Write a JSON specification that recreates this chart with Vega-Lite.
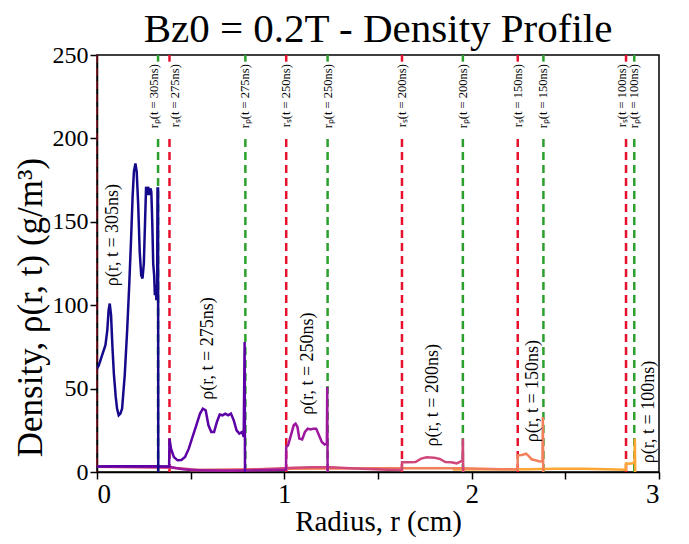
{
  "$schema": "https://vega.github.io/schema/vega-lite/v6.json",
  "autosize": {"type": "none"},
  "padding": {"left": 97, "top": 55, "right": 30, "bottom": 72},
  "width": 562,
  "height": 417,
  "background": "white",
  "title": {
    "text": "Bz0 = 0.2T - Density Profile",
    "font": "Liberation Serif",
    "fontSize": 41,
    "fontWeight": "normal",
    "color": "black",
    "anchor": "middle",
    "frame": "group",
    "baseline": "alphabetic",
    "offset": 12,
    "dy": 52
  },
  "config": {
    "view": {"stroke": "black", "strokeWidth": 1.5},
    "axis": {
      "grid": false,
      "domainColor": "black",
      "domainWidth": 1.5,
      "tickColor": "black",
      "tickWidth": 1.5,
      "tickSize": 7,
      "labelFont": "Liberation Serif",
      "titleFont": "Liberation Serif",
      "labelColor": "black",
      "titleColor": "black",
      "titleFontWeight": "normal",
      "zindex": 1
    },
    "text": {"font": "Liberation Serif", "color": "black"}
  },
  "datasets": {
    "curves": [
      {"t": "100ns", "r": 1.9, "rho": 1.5},
      {"t": "100ns", "r": 2.1, "rho": 1.6},
      {"t": "100ns", "r": 2.3, "rho": 1.7},
      {"t": "100ns", "r": 2.45, "rho": 1.9},
      {"t": "100ns", "r": 2.6, "rho": 1.9},
      {"t": "100ns", "r": 2.72, "rho": 1.6},
      {"t": "100ns", "r": 2.823, "rho": 1.3},
      {"t": "100ns", "r": 2.824, "rho": 5.2},
      {"t": "100ns", "r": 2.84, "rho": 5.0},
      {"t": "100ns", "r": 2.86, "rho": 5.2},
      {"t": "100ns", "r": 2.869, "rho": 6.0},
      {"t": "100ns", "r": 2.871, "rho": 20},
      {"t": "100ns", "r": 2.873, "rho": 0},

      {"t": "150ns", "r": 0.5, "rho": 1.0},
      {"t": "150ns", "r": 1.0, "rho": 2.0},
      {"t": "150ns", "r": 1.5, "rho": 2.2},
      {"t": "150ns", "r": 1.95, "rho": 2.2},
      {"t": "150ns", "r": 2.05, "rho": 2.0},
      {"t": "150ns", "r": 2.15, "rho": 1.7},
      {"t": "150ns", "r": 2.245, "rho": 1.5},
      {"t": "150ns", "r": 2.246, "rho": 10},
      {"t": "150ns", "r": 2.27, "rho": 10.2},
      {"t": "150ns", "r": 2.29, "rho": 11},
      {"t": "150ns", "r": 2.305, "rho": 9.5},
      {"t": "150ns", "r": 2.32, "rho": 7.6},
      {"t": "150ns", "r": 2.34, "rho": 7.0},
      {"t": "150ns", "r": 2.36, "rho": 6.5},
      {"t": "150ns", "r": 2.378, "rho": 6.2},
      {"t": "150ns", "r": 2.38, "rho": 33},
      {"t": "150ns", "r": 2.382, "rho": 0},

      {"t": "200ns", "r": 0.0, "rho": 3.2},
      {"t": "200ns", "r": 0.4, "rho": 2.6},
      {"t": "200ns", "r": 0.55, "rho": 1.2},
      {"t": "200ns", "r": 0.8, "rho": 1.3},
      {"t": "200ns", "r": 0.95, "rho": 2.0},
      {"t": "200ns", "r": 1.05, "rho": 2.6},
      {"t": "200ns", "r": 1.15, "rho": 2.9},
      {"t": "200ns", "r": 1.25, "rho": 2.8},
      {"t": "200ns", "r": 1.35, "rho": 2.3},
      {"t": "200ns", "r": 1.45, "rho": 1.8},
      {"t": "200ns", "r": 1.55, "rho": 1.4},
      {"t": "200ns", "r": 1.627, "rho": 1.2},
      {"t": "200ns", "r": 1.628, "rho": 5.8},
      {"t": "200ns", "r": 1.66, "rho": 5.8},
      {"t": "200ns", "r": 1.7, "rho": 6.0},
      {"t": "200ns", "r": 1.73, "rho": 8.0},
      {"t": "200ns", "r": 1.76, "rho": 8.8},
      {"t": "200ns", "r": 1.8, "rho": 8.6},
      {"t": "200ns", "r": 1.83, "rho": 7.8},
      {"t": "200ns", "r": 1.86, "rho": 6.0},
      {"t": "200ns", "r": 1.89, "rho": 5.8},
      {"t": "200ns", "r": 1.92, "rho": 5.2},
      {"t": "200ns", "r": 1.945, "rho": 6.5},
      {"t": "200ns", "r": 1.951, "rho": 6.2},
      {"t": "200ns", "r": 1.953, "rho": 20},
      {"t": "200ns", "r": 1.955, "rho": 0},

      {"t": "250ns", "r": 0.0, "rho": 3.3},
      {"t": "250ns", "r": 0.387, "rho": 3.2},
      {"t": "250ns", "r": 0.42, "rho": 2.4},
      {"t": "250ns", "r": 0.46, "rho": 1.6},
      {"t": "250ns", "r": 0.5, "rho": 1.2},
      {"t": "250ns", "r": 0.6, "rho": 0.9},
      {"t": "250ns", "r": 0.7, "rho": 0.8},
      {"t": "250ns", "r": 0.8, "rho": 0.9},
      {"t": "250ns", "r": 0.9, "rho": 1.1},
      {"t": "250ns", "r": 1.0, "rho": 1.3},
      {"t": "250ns", "r": 1.009, "rho": 1.4},
      {"t": "250ns", "r": 1.01, "rho": 15},
      {"t": "250ns", "r": 1.02, "rho": 16},
      {"t": "250ns", "r": 1.035, "rho": 22},
      {"t": "250ns", "r": 1.05, "rho": 28},
      {"t": "250ns", "r": 1.06, "rho": 29},
      {"t": "250ns", "r": 1.07, "rho": 27},
      {"t": "250ns", "r": 1.08, "rho": 20},
      {"t": "250ns", "r": 1.095, "rho": 19.5},
      {"t": "250ns", "r": 1.11, "rho": 24},
      {"t": "250ns", "r": 1.125, "rho": 26},
      {"t": "250ns", "r": 1.14, "rho": 25.5},
      {"t": "250ns", "r": 1.155, "rho": 26},
      {"t": "250ns", "r": 1.17, "rho": 26},
      {"t": "250ns", "r": 1.185, "rho": 22},
      {"t": "250ns", "r": 1.2, "rho": 18},
      {"t": "250ns", "r": 1.215, "rho": 16.5},
      {"t": "250ns", "r": 1.227, "rho": 17},
      {"t": "250ns", "r": 1.229, "rho": 51},
      {"t": "250ns", "r": 1.231, "rho": 0},

      {"t": "275ns", "r": 0.0, "rho": 3.3},
      {"t": "275ns", "r": 0.1, "rho": 3.4},
      {"t": "275ns", "r": 0.2, "rho": 3.5},
      {"t": "275ns", "r": 0.3, "rho": 3.4},
      {"t": "275ns", "r": 0.385, "rho": 3.3},
      {"t": "275ns", "r": 0.387, "rho": 20},
      {"t": "275ns", "r": 0.395, "rho": 14},
      {"t": "275ns", "r": 0.41, "rho": 9},
      {"t": "275ns", "r": 0.43, "rho": 7},
      {"t": "275ns", "r": 0.45, "rho": 7.2},
      {"t": "275ns", "r": 0.47, "rho": 9},
      {"t": "275ns", "r": 0.49, "rho": 14},
      {"t": "275ns", "r": 0.51, "rho": 21},
      {"t": "275ns", "r": 0.53, "rho": 28},
      {"t": "275ns", "r": 0.55, "rho": 35},
      {"t": "275ns", "r": 0.565, "rho": 38},
      {"t": "275ns", "r": 0.58, "rho": 37},
      {"t": "275ns", "r": 0.595, "rho": 28},
      {"t": "275ns", "r": 0.61, "rho": 24},
      {"t": "275ns", "r": 0.625, "rho": 24},
      {"t": "275ns", "r": 0.64, "rho": 30},
      {"t": "275ns", "r": 0.655, "rho": 34.5},
      {"t": "275ns", "r": 0.67, "rho": 34},
      {"t": "275ns", "r": 0.685, "rho": 35},
      {"t": "275ns", "r": 0.7, "rho": 34},
      {"t": "275ns", "r": 0.715, "rho": 35},
      {"t": "275ns", "r": 0.73, "rho": 31},
      {"t": "275ns", "r": 0.745, "rho": 25},
      {"t": "275ns", "r": 0.76, "rho": 23},
      {"t": "275ns", "r": 0.775, "rho": 24},
      {"t": "275ns", "r": 0.783, "rho": 21},
      {"t": "275ns", "r": 0.788, "rho": 78},
      {"t": "275ns", "r": 0.79, "rho": 0},

      {"t": "305ns", "r": 0.0, "rho": 62},
      {"t": "305ns", "r": 0.01, "rho": 64},
      {"t": "305ns", "r": 0.03, "rho": 71},
      {"t": "305ns", "r": 0.045, "rho": 76},
      {"t": "305ns", "r": 0.055, "rho": 85},
      {"t": "305ns", "r": 0.062, "rho": 97},
      {"t": "305ns", "r": 0.068, "rho": 101},
      {"t": "305ns", "r": 0.075, "rho": 94},
      {"t": "305ns", "r": 0.082, "rho": 76},
      {"t": "305ns", "r": 0.09, "rho": 59},
      {"t": "305ns", "r": 0.1, "rho": 45},
      {"t": "305ns", "r": 0.107, "rho": 38},
      {"t": "305ns", "r": 0.116, "rho": 34},
      {"t": "305ns", "r": 0.125, "rho": 35},
      {"t": "305ns", "r": 0.134, "rho": 38},
      {"t": "305ns", "r": 0.148, "rho": 58},
      {"t": "305ns", "r": 0.161, "rho": 85},
      {"t": "305ns", "r": 0.172, "rho": 112},
      {"t": "305ns", "r": 0.182, "rho": 140},
      {"t": "305ns", "r": 0.19, "rho": 165},
      {"t": "305ns", "r": 0.197, "rho": 180},
      {"t": "305ns", "r": 0.205, "rho": 185},
      {"t": "305ns", "r": 0.212, "rho": 180},
      {"t": "305ns", "r": 0.22, "rho": 160},
      {"t": "305ns", "r": 0.228, "rho": 132},
      {"t": "305ns", "r": 0.236, "rho": 118},
      {"t": "305ns", "r": 0.243, "rho": 116},
      {"t": "305ns", "r": 0.25, "rho": 125},
      {"t": "305ns", "r": 0.256, "rho": 148},
      {"t": "305ns", "r": 0.262, "rho": 171},
      {"t": "305ns", "r": 0.268, "rho": 166},
      {"t": "305ns", "r": 0.273, "rho": 171},
      {"t": "305ns", "r": 0.279, "rho": 166},
      {"t": "305ns", "r": 0.285, "rho": 170},
      {"t": "305ns", "r": 0.29, "rho": 168},
      {"t": "305ns", "r": 0.295, "rho": 150},
      {"t": "305ns", "r": 0.3, "rho": 125},
      {"t": "305ns", "r": 0.305, "rho": 118},
      {"t": "305ns", "r": 0.309, "rho": 106},
      {"t": "305ns", "r": 0.313, "rho": 112},
      {"t": "305ns", "r": 0.317, "rho": 103},
      {"t": "305ns", "r": 0.321, "rho": 108},
      {"t": "305ns", "r": 0.323, "rho": 170},
      {"t": "305ns", "r": 0.326, "rho": 170},
      {"t": "305ns", "r": 0.327, "rho": 0}
    ],
    "vlines": [
      {"r": 0.326, "kind": "rp", "label": "rₚ(t = 305ns)"},
      {"r": 0.387, "kind": "rs", "label": "rₛ(t = 275ns)"},
      {"r": 0.792, "kind": "rp", "label": "rₚ(t = 275ns)"},
      {"r": 1.01, "kind": "rs", "label": "rₛ(t = 250ns)"},
      {"r": 1.231, "kind": "rp", "label": "rₚ(t = 250ns)"},
      {"r": 1.628, "kind": "rs", "label": "rₛ(t = 200ns)"},
      {"r": 1.953, "kind": "rp", "label": "rₚ(t = 200ns)"},
      {"r": 2.246, "kind": "rs", "label": "rₛ(t = 150ns)"},
      {"r": 2.383, "kind": "rp", "label": "rₚ(t = 150ns)"},
      {"r": 2.824, "kind": "rs", "label": "rₛ(t = 100ns)"},
      {"r": 2.868, "kind": "rp", "label": "rₚ(t = 100ns)"}
    ],
    "edge": [
      {"r": 0.0, "kind": "rs"}
    ],
    "curvelabels": [
      {"r": 0.088, "rho": 142, "label": "ρ(r, t = 305ns)"},
      {"r": 0.595, "rho": 74, "label": "ρ(r, t = 275ns)"},
      {"r": 1.128, "rho": 65, "label": "ρ(r, t = 250ns)"},
      {"r": 1.795, "rho": 46, "label": "ρ(r, t = 200ns)"},
      {"r": 2.33, "rho": 48.5, "label": "ρ(r, t = 150ns)"},
      {"r": 2.947, "rho": 36, "label": "ρ(r, t = 100ns)"}
    ]
  },
  "layer": [
    {
      "data": {"name": "edge"},
      "mark": {"type": "rule", "strokeDash": [8, 5], "strokeWidth": 1.5, "opacity": 0.5, "color": "#e8112d"},
      "encoding": {
        "x": {"field": "r", "type": "quantitative"}
      }
    },
    {
      "data": {"name": "vlines"},
      "mark": {"type": "rule", "strokeDash": [8, 5], "strokeWidth": 2.5},
      "encoding": {
        "x": {"field": "r", "type": "quantitative"},
        "y": {"datum": 0, "type": "quantitative"},
        "y2": {"datum": 201},
        "stroke": {"field": "kind", "type": "nominal", "scale": {"domain": ["rs", "rp"], "range": ["#e8112d", "#2ca02c"]}, "legend": null}
      }
    },
    {
      "data": {"name": "vlines"},
      "mark": {"type": "rule", "strokeWidth": 2.5},
      "encoding": {
        "x": {"field": "r", "type": "quantitative"},
        "y": {"datum": 246, "type": "quantitative"},
        "y2": {"datum": 250},
        "stroke": {"field": "kind", "type": "nominal", "scale": {"domain": ["rs", "rp"], "range": ["#e8112d", "#2ca02c"]}, "legend": null}
      }
    },
    {
      "data": {"name": "vlines"},
      "transform": [{"filter": "datum.label != 'rₚ(t = 305ns)' && datum.label != 'rₛ(t = 275ns)' && datum.label != 'rₛ(t = 100ns)'"}],
      "mark": {"type": "text", "angle": 270, "align": "right", "baseline": "middle", "fontSize": 12.5},
      "encoding": {
        "x": {"field": "r", "type": "quantitative"},
        "y": {"datum": 244.5, "type": "quantitative"},
        "text": {"field": "label"}
      }
    },
    {
      "data": {"name": "vlines"},
      "transform": [{"filter": "datum.label == 'rₚ(t = 305ns)' || datum.label == 'rₛ(t = 100ns)'"}],
      "mark": {"type": "text", "angle": 270, "align": "right", "baseline": "alphabetic", "fontSize": 12.5},
      "encoding": {
        "x": {"field": "r", "type": "quantitative"},
        "y": {"datum": 244.5, "type": "quantitative"},
        "text": {"field": "label"}
      }
    },
    {
      "data": {"name": "vlines"},
      "transform": [{"filter": "datum.label == 'rₛ(t = 275ns)'"}],
      "mark": {"type": "text", "angle": 270, "align": "right", "baseline": "top", "fontSize": 12.5},
      "encoding": {
        "x": {"field": "r", "type": "quantitative"},
        "y": {"datum": 244.5, "type": "quantitative"},
        "text": {"field": "label"}
      }
    },
    {
      "data": {"name": "curves"},
      "mark": {"type": "line", "strokeWidth": 2.5, "clip": true},
      "encoding": {
        "x": {
          "field": "r", "type": "quantitative",
          "scale": {"domain": [0, 3], "nice": false, "zero": false},
          "axis": {
            "title": "Radius, r (cm)",
            "values": [0, 0.5, 1, 1.5, 2, 2.5, 3],
            "labelExpr": "datum.value % 1 == 0 ? format(datum.value, 'd') : ''",
            "labelFontSize": 27,
            "labelPadding": 2,
            "titleFontSize": 29,
            "titlePadding": 0
          }
        },
        "y": {
          "field": "rho", "type": "quantitative",
          "scale": {"domain": [0, 250], "nice": false},
          "axis": {
            "title": "Density, ρ(r, t) (g/m³)",
            "values": [0, 50, 100, 150, 200, 250],
            "labelFontSize": 24,
            "labelPadding": 2,
            "titleFontSize": 35,
            "titlePadding": 4,
            "titleY": 252
          }
        },
        "color": {
          "field": "t", "type": "nominal",
          "scale": {
            "domain": ["305ns", "275ns", "250ns", "200ns", "150ns", "100ns"],
            "range": ["#14098a", "#5c01a6", "#9c179e", "#d0487a", "#f07f5a", "#fca636"]
          },
          "legend": null
        }
      }
    },
    {
      "data": {"name": "curvelabels"},
      "mark": {"type": "text", "angle": 270, "align": "center", "baseline": "middle", "fontSize": 18},
      "encoding": {
        "x": {"field": "r", "type": "quantitative"},
        "y": {"field": "rho", "type": "quantitative"},
        "text": {"field": "label"}
      }
    }
  ]
}
